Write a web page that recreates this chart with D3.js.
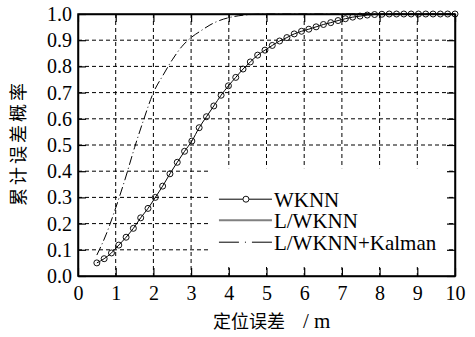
<!DOCTYPE html>
<html>
<head>
<meta charset="utf-8">
<script src="https://cdn.jsdelivr.net/npm/d3@7"></script>
<style>
  body { margin: 0; background: #fff; }
  svg { display: block; }
</style>
</head>
<body>
<svg width="475" height="337"></svg>
<script>
// CDF of positioning error
var xTicks = [0, 1, 2, 3, 4, 5, 6, 7, 8, 9, 10];
var yTicks = [0, 0.1, 0.2, 0.3, 0.4, 0.5, 0.6, 0.7, 0.8, 0.9, 1.0];

// WKNN (markers)
var wknnX = [0.5, 0.694, 0.888, 1.082, 1.276, 1.469, 1.663, 1.857, 2.051, 2.245,
  2.439, 2.633, 2.827, 3.020, 3.214, 3.408, 3.602, 3.796, 3.990, 4.184,
  4.378, 4.571, 4.765, 4.959, 5.153, 5.347, 5.541, 5.735, 5.929, 6.122,
  6.316, 6.510, 6.704, 6.898, 7.092, 7.286, 7.480, 7.673, 7.867, 8.061,
  8.255, 8.449, 8.643, 8.837, 9.031, 9.224, 9.418, 9.612, 9.806, 10.0];
var wknnY = [0.05, 0.066, 0.088, 0.118, 0.148, 0.182, 0.222, 0.258, 0.300, 0.343,
  0.390, 0.434, 0.476, 0.515, 0.566, 0.608, 0.649, 0.690, 0.726, 0.758,
  0.790, 0.817, 0.843, 0.862, 0.880, 0.897, 0.910, 0.924, 0.934, 0.942,
  0.951, 0.960, 0.967, 0.975, 0.982, 0.988, 0.992, 0.996, 0.998, 0.999,
  1, 1, 1, 1, 1, 1, 1, 1, 1, 1];

// L/WKNN+Kalman (dash-dot)
var kalX = [0.5, 0.75, 1.0, 1.25, 1.5, 1.75, 2.0, 2.25, 2.5, 2.75, 3.0, 3.25, 3.5, 3.75, 4.0, 4.25, 4.5, 5.0, 10];
var kalY = [0.08, 0.16, 0.26, 0.37, 0.49, 0.60, 0.70, 0.765, 0.825, 0.875, 0.91, 0.935, 0.958, 0.975, 0.986, 0.993, 0.997, 1.0, 1.0];

var legendNames = ["WKNN", "L/WKNN", "L/WKNN+Kalman"];

var serif = "Liberation Serif";
var cjk = "Noto Sans CJK SC";

var svg = d3.select("svg"),
    margin = {left: 78, right: 20, top: 14, bottom: 61},
    width = +svg.attr("width") - margin.left - margin.right,
    height = +svg.attr("height") - margin.top - margin.bottom;

var x = d3.scaleLinear().domain([0, 10]).range([0, width]);
var y = d3.scaleLinear().domain([0, 1]).range([height, 0]);

var g = svg.append("g").attr("transform", "translate(" + margin.left + "," + margin.top + ")");

// dashed grid
g.append("g").selectAll("line").data(xTicks.slice(1, -1)).enter().append("line")
    .attr("x1", function(d) { return x(d); }).attr("x2", function(d) { return x(d); })
    .attr("y1", 0).attr("y2", height)
    .attr("stroke", "#000").attr("stroke-width", 1).attr("stroke-dasharray", "4,3");
g.append("g").selectAll("line").data(yTicks.slice(1, -1)).enter().append("line")
    .attr("y1", function(d) { return y(d); }).attr("y2", function(d) { return y(d); })
    .attr("x1", 0).attr("x2", width)
    .attr("stroke", "#000").attr("stroke-width", 1).attr("stroke-dasharray", "4,3");

// curves
var wknn = wknnX.map(function(v, i) { return [v, wknnY[i]]; });
var kal = kalX.map(function(v, i) { return [v, kalY[i]]; });

var line = d3.line()
    .x(function(d) { return x(d[0]); })
    .y(function(d) { return y(d[1]); })
    .curve(d3.curveMonotoneX);

g.append("path").datum(kal)
    .attr("d", line).attr("fill", "none")
    .attr("stroke", "#000").attr("stroke-width", 1)
    .attr("stroke-dasharray", "9,3,1,3");

g.append("path").datum(wknn)
    .attr("d", line).attr("fill", "none")
    .attr("stroke", "#000").attr("stroke-width", 1);

g.append("g").selectAll("circle").data(wknn).enter().append("circle")
    .attr("cx", function(d) { return x(d[0]); })
    .attr("cy", function(d) { return y(d[1]); })
    .attr("r", 3)
    .attr("fill", "none").attr("stroke", "#111").attr("stroke-width", 1);

// legend (white box over the grid)
var lg = g.append("g").attr("transform", "translate(" + (x(3.5)) + "," + (y(0.4) - 3) + ")");
lg.append("rect").attr("x", 0).attr("y", 0).attr("width", width - x(3.5) - 8).attr("height", height - y(0.4) - 6)
    .attr("fill", "#fff");
var rows = [31, 52, 74];
legendNames.forEach(function(name, i) {
  var row = lg.append("g").attr("transform", "translate(0," + rows[i] + ")");
  if (i === 0) {
    row.append("line").attr("x1", 9).attr("x2", 62).attr("stroke", "#000").attr("stroke-width", 1);
    row.append("circle").attr("cx", 36).attr("r", 3).attr("fill", "#fff").attr("stroke", "#111");
  } else if (i === 1) {
    row.append("line").attr("x1", 9).attr("x2", 62).attr("stroke", "#808080").attr("stroke-width", 2);
  } else {
    row.append("line").attr("x1", 9).attr("x2", 62).attr("stroke", "#000").attr("stroke-width", 1)
        .attr("stroke-dasharray", "20,6,1,6,30");
  }
  row.append("text").attr("x", 64).attr("dy", "0.35em")
      .style("font-family", serif).style("font-size", "21px").text(name);
});

// axes with inward ticks on all sides
var tickLen = 8;
g.append("g").attr("transform", "translate(0," + height + ")")
    .call(d3.axisBottom(x).tickValues(xTicks).tickSizeInner(-tickLen).tickSizeOuter(0).tickPadding(10))
    .call(function(a) { a.selectAll("text").style("font-family", serif).style("font-size", "20px").attr("dy", "0.71em"); });
g.append("g")
    .call(d3.axisLeft(y).tickValues(yTicks).tickSizeInner(-tickLen).tickSizeOuter(0).tickPadding(6)
      .tickFormat(d3.format(".1f")))
    .call(function(a) { a.selectAll("text").style("font-family", serif).style("font-size", "20px"); });
g.append("g")
    .call(d3.axisTop(x).tickValues(xTicks).tickSizeInner(-tickLen).tickSizeOuter(0).tickFormat(""));
g.append("g").attr("transform", "translate(" + width + ",0)")
    .call(d3.axisRight(y).tickValues(yTicks).tickSizeInner(-tickLen).tickSizeOuter(0).tickFormat(""));
g.selectAll(".domain").attr("stroke", "#000").attr("stroke-width", 1.5);
g.selectAll(".tick line").attr("stroke", "#000").attr("stroke-width", 1.2);
g.selectAll(".tick text").attr("fill", "#000");
g.append("rect").attr("width", width).attr("height", height)
    .attr("fill", "none").attr("stroke", "#000").attr("stroke-width", 1.5);

// axis titles
svg.append("text")
    .attr("transform", "translate(19," + (margin.top + height / 2 - 2) + ") rotate(-90)")
    .attr("text-anchor", "middle").attr("dy", "0.35em")
    .style("font-family", cjk).style("font-size", "18px").style("letter-spacing", "3px")
    .text("累计误差概率");

var xt = svg.append("text").attr("x", 213).attr("y", 328);
xt.append("tspan").style("font-family", cjk).style("font-size", "18px").text("定位误差");
xt.append("tspan").style("font-family", serif).style("font-size", "21px").attr("dx", 18).text("/ m");
</script>
</body>
</html>
